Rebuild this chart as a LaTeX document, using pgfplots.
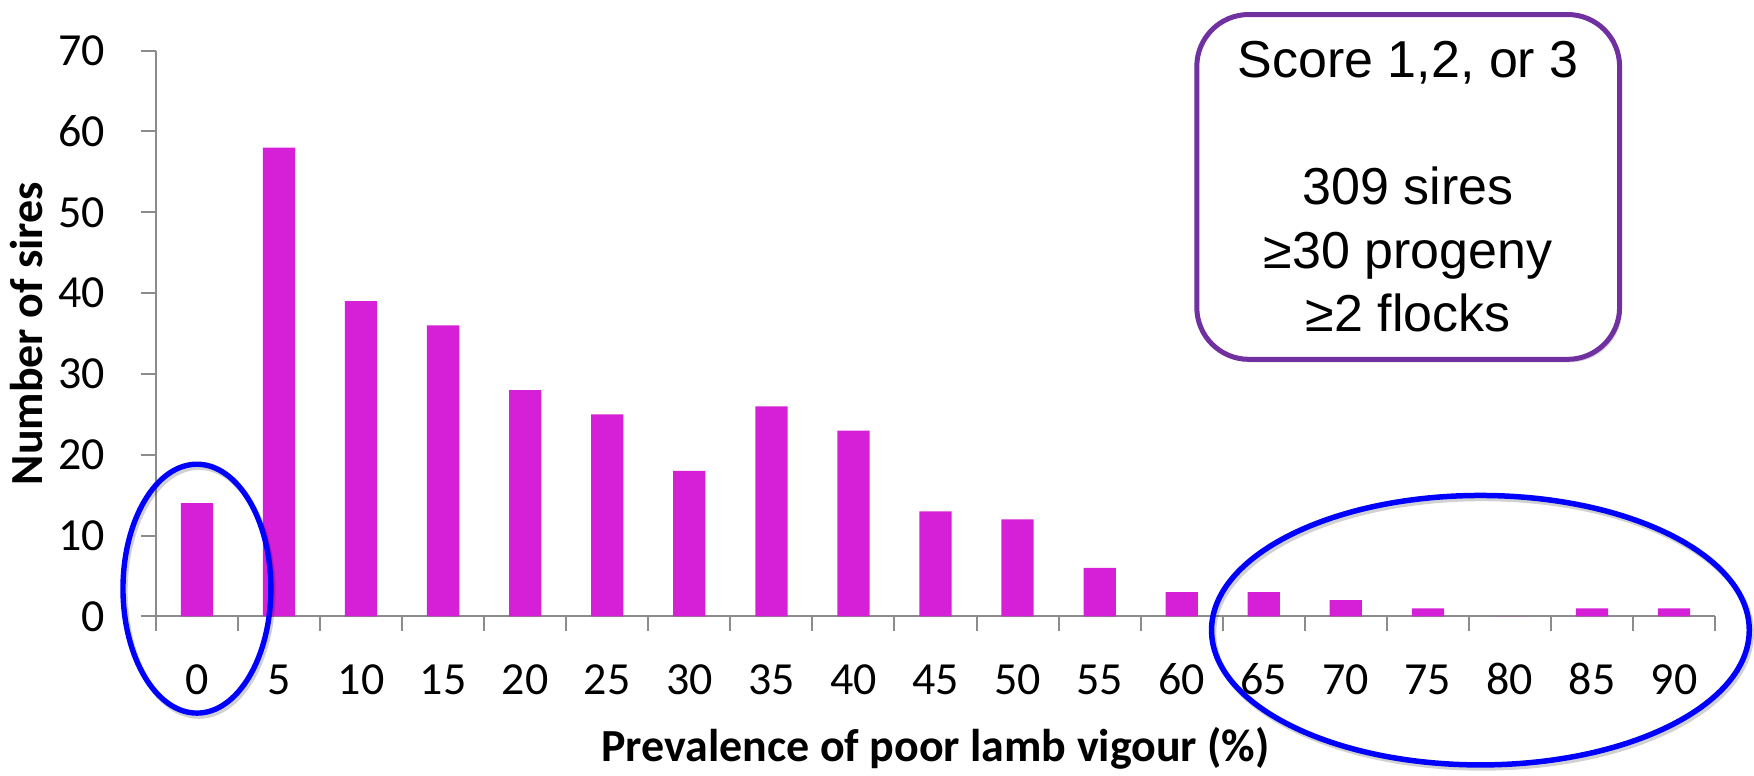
\documentclass[border=0pt]{standalone}
\usepackage{fontspec}
\setmainfont{Carlito}
\newfontfamily\boxfont{Liberation Sans}
\usepackage{pgfplots}
\pgfplotsset{compat=1.18}
\usetikzlibrary{shadows}

\definecolor{barmag}{RGB}{214,32,216}
\definecolor{axgray}{RGB}{140,140,140}
\definecolor{boxpurple}{RGB}{112,48,160}

\begin{document}
\begin{tikzpicture}
\begin{axis}[
    scale only axis,
    width=780pt,
    height=283pt,
    xmin=-0.5, xmax=18.5,
    ymin=0, ymax=70,
    clip=false,
    axis x line*=bottom,
    axis y line*=left,
    axis line style={draw=axgray, line width=1pt},
    tick style={draw=axgray, line width=1pt},
    tick align=outside,
    major tick length=7.5pt,
    ytick={0,10,...,70},
    xtick={-0.5,0.5,...,18.5},
    xticklabels={},
    extra x ticks={0,1,...,18},
    extra x tick labels={0,5,10,15,20,25,30,35,40,45,50,55,60,65,70,75,80,85,90},
    extra x tick style={major tick length=0pt},
    /pgf/number format/assume math mode=true,
    ticklabel style={font=\fontsize{23}{27}\selectfont},
    xticklabel style={anchor=base, yshift=-39pt},
    yticklabel style={anchor=east, xshift=-14.5pt},
    xlabel={Prevalence of poor lamb vigour (\%)},
    ylabel={Number of sires},
    label style={font=\bfseries\fontsize{23}{27}\selectfont},
    xlabel style={at={(axis description cs:0.5,-0.2562)}, anchor=base},
    ylabel style={at={(axis description cs:-0.07244,0.5)}, anchor=base},
]

\addplot[ybar, bar width=16.15pt, fill=barmag, draw=none]
    coordinates {
    (0,14)(1,58)(2,39)(3,36)(4,28)(5,25)(6,18)(7,26)(8,23)(9,13)
    (10,12)(11,6)(12,3)(13,3)(14,2)(15,1)(16,0)(17,1)(18,1)
    };

% ellipses round the extremes, with a faint shadow
\draw[black, opacity=0.18, line width=2.7pt] ([shift={(1pt,-1.5pt)}]axis cs:0,3.43) ellipse [x radius=37pt, y radius=62.25pt];
\draw[black, opacity=0.18, line width=2.75pt] ([shift={(1pt,-1.5pt)}]axis cs:15.64,-1.71) ellipse [x radius=134.5pt, y radius=67.4pt];
\draw[blue, line width=2.7pt] (axis cs:0,3.43) ellipse [x radius=37pt, y radius=62.25pt];
\draw[blue, line width=2.75pt] (axis cs:15.64,-1.71) ellipse [x radius=134.5pt, y radius=67.4pt];

\node[draw=boxpurple, line width=2.5pt, rounded corners=26pt, fill=white,
      minimum width=211.5pt, minimum height=172.5pt, inner sep=0pt,
      align=center, font=\boxfont\fontsize{26}{31.75}\selectfont,
      drop shadow={shadow xshift=1.2pt, shadow yshift=-1.5pt, opacity=0.3}]
    at (axis cs:14.76,53.14)
    {Score 1,2, or 3\\[31.75pt]309 sires\\≥30 progeny\\≥2 flocks};

% page extent
\path (axis cs:-2.4,76.27) rectangle (axis cs:18.964,-19.08);

\end{axis}
\end{tikzpicture}
\end{document}
